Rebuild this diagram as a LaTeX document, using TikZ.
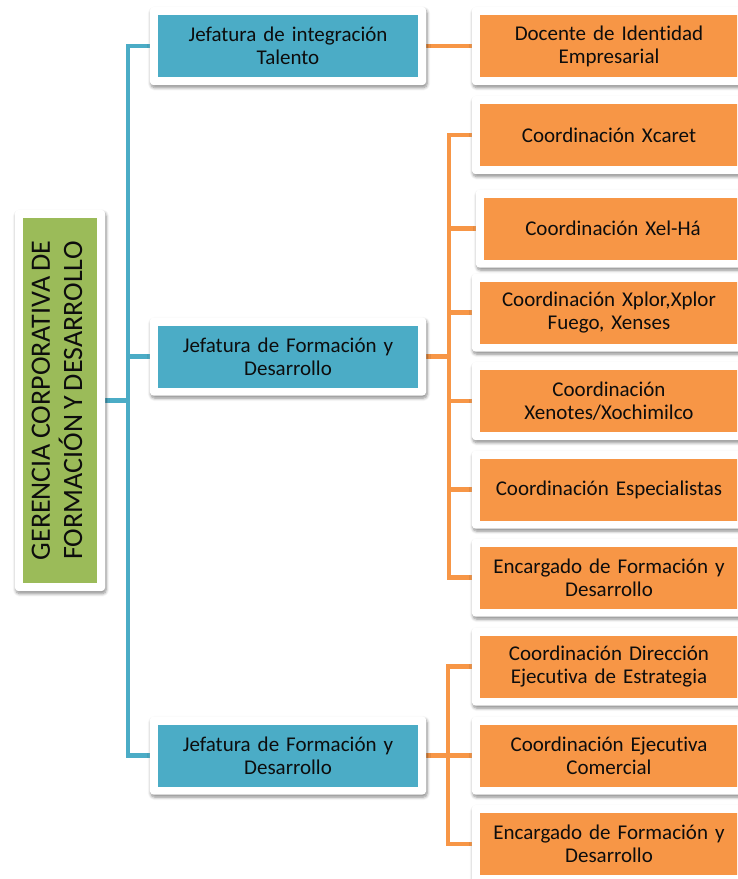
\documentclass[tikz,border=0pt]{standalone}
\usepackage{fontspec}
\usepackage{graphicx}
\setmainfont{Carlito}[Ligatures={NoCommon},WordSpace=0.8]
\usetikzlibrary{fit,shadows.blur,calc}
\definecolor{cblue}{HTML}{4BACC6}
\definecolor{corange}{HTML}{F79646}
\definecolor{cgreen}{HTML}{9BBB59}
\pgfdeclarelayer{lines}
\pgfdeclarelayer{frames}
\pgfsetlayers{lines,frames,main}
\tikzset{
  x=1pt, y=-1pt,
  basebox/.style={inner sep=0pt, align=center, text=black!95,
    font=\fontsize{21}{23}\selectfont},
  bluebox/.style={basebox, fill=cblue, minimum width=260pt, minimum height=62pt, text width=252pt},
  orangebox/.style={basebox, fill=corange, minimum width=258pt, minimum height=62pt, text width=250pt},
  greenbox/.style={basebox, fill=cgreen, minimum width=74pt, minimum height=365pt},
  frame/.style={fill=white, rounded corners=4pt, inner sep=8pt,
    blur shadow={shadow xshift=1pt, shadow yshift=-2.5pt, shadow blur radius=3pt,
      shadow blur steps=6, shadow opacity=45}},
  blueline/.style={draw=cblue, line width=4.5pt},
  orangeline/.style={draw=corange, line width=4.5pt},
}
\begin{document}
\begin{tikzpicture}
\useasboundingbox (0,0) rectangle (737,879);
\clip (0,0) rectangle (737,879);
% root
\node[greenbox] (g) at (60,400.5) {\rotatebox{90}{\fontsize{28}{30}\selectfont\begin{tabular}{@{}c@{}}GERENCIA CORPORATIVA DE\\FORMACIÓN Y DESARROLLO\end{tabular}}};
% second level
\node[bluebox] (b1) at (288,46) {Jefatura de integración\\Talento};
\node[bluebox] (b2) at (288,356.5) {Jefatura de Formación y\\Desarrollo};
\node[bluebox] (b3) at (288,755.5) {Jefatura de Formación y\\Desarrollo};
% third level
\node[orangebox] (d) at (609,46) {Docente de Identidad\\Empresarial};
\node[orangebox] (x1) at (609,135) {Coordinación Xcaret};
\node[orangebox] (x2) at (613,228.5) {Coordinación Xel-Há};
\node[orangebox] (x3) at (609,312.5) {Coordinación Xplor,Xplor\\Fuego, Xenses};
\node[orangebox] (x4) at (609,401) {Coordinación\\Xenotes/Xochimilco};
\node[orangebox] (x5) at (609,489.5) {Coordinación Especialistas};
\node[orangebox] (x6) at (609,577.5) {Encargado de Formación y\\Desarrollo};
\node[orangebox] (c1) at (609,666.5) {Coordinación Dirección\\Ejecutiva de Estrategia};
\node[orangebox] (c2) at (609,755.5) {Coordinación Ejecutiva\\Comercial};
\node[orangebox] (c3) at (609,844) {Encargado de Formación y\\Desarrollo};
% frames
\begin{pgfonlayer}{frames}
\foreach \n in {g,b1,b2,b3,d,x1,x2,x3,x4,x5,x6,c1,c2,c3}
  \node[frame, fit=(\n)] (f\n) {};
\end{pgfonlayer}
% connectors
\coordinate (tb) at (128,0);
\coordinate (to) at (449,0);
\coordinate (tc) at (448,0);
\begin{pgfonlayer}{lines}
\draw[blueline] (b1.west) -- (b1.west -| tb) -- (b3.west -| tb) -- (b3.west);
\draw[blueline] (b2.west) -- (b2.west -| tb);
\draw[blueline] (g.east) -- (g.east -| tb);
\draw[orangeline] (b1.east) -- (d.west);
\draw[orangeline] (x1.west) -- (x1.west -| to) -- (x6.west -| to) -- (x6.west);
\foreach \n in {x2,x3,x4,x5}
  \draw[orangeline] (\n.west) -- (\n.west -| to);
\draw[orangeline] (b2.east) -- (b2.east -| to);
\draw[orangeline] (c1.west) -- (c1.west -| tc) -- (c3.west -| tc) -- (c3.west);
\draw[orangeline] (c2.west) -- (c2.west -| tc);
\draw[orangeline] (b3.east) -- (b3.east -| tc);
\end{pgfonlayer}
\end{tikzpicture}
\end{document}
